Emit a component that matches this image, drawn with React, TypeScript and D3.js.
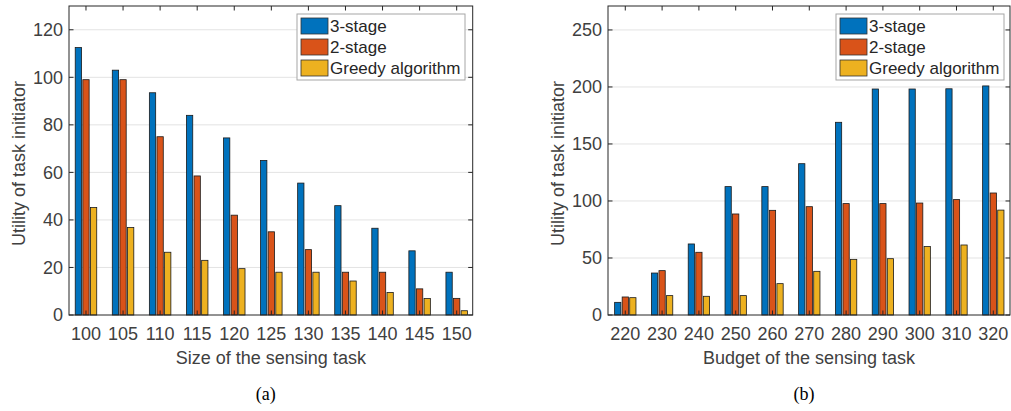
import { useEffect, useRef } from 'react';
import * as d3 from 'd3';

const seriesNames = ['3-stage', '2-stage', 'Greedy algorithm'];
const seriesColors = ['#0072BD', '#D95319', '#EDB120'];

// (a) size of the sensing task
const sizeTicks = [100, 105, 110, 115, 120, 125, 130, 135, 140, 145, 150];
const sizeThreeStage = [112.5, 103, 93.5, 84, 74.5, 65, 55.5, 46, 36.5, 27, 18];
const sizeTwoStage = [99, 99, 75, 58.5, 42, 35, 27.5, 18, 18, 11, 7];
const sizeGreedy = [45.2, 36.8, 26.4, 23, 19.5, 18, 18, 14.3, 9.5, 6.9, 1.8];
const sizeYTicks = [0, 20, 40, 60, 80, 100, 120];

// (b) budget of the sensing task
const budgetTicks = [220, 230, 240, 250, 260, 270, 280, 290, 300, 310, 320];
const budgetThreeStage = [11.1, 36.8, 62.3, 112.6, 112.6, 132.7, 169, 198.2, 198.2, 198.4, 200.9];
const budgetTwoStage = [15.8, 38.9, 55, 88.6, 91.8, 95, 97.7, 97.7, 98.2, 101.2, 107];
const budgetGreedy = [15.2, 17, 16.4, 17, 27.5, 38.3, 48.8, 49.4, 60, 61.4, 92];
const budgetYTicks = [0, 50, 100, 150, 200, 250];

const FONT = '"Liberation Sans", Arial, Helvetica, sans-serif';

function drawPanel(svg, p) {
  const g = svg.append('g');
  const x = d3.scaleLinear().domain(p.xDomain).range([p.left, p.right]);
  const y = d3.scaleLinear().domain(p.yDomain).range([p.bottom, p.top]);
  const step = x(p.cats[1]) - x(p.cats[0]);
  const pitch = step * 0.205;
  const bw = step * 0.17;

  // grid
  g.selectAll('.grid')
    .data(p.yTicks.filter(t => t > 0))
    .join('line')
    .attr('x1', p.left).attr('x2', p.right)
    .attr('y1', d => y(d)).attr('y2', d => y(d))
    .attr('stroke', '#e3e3e3').attr('stroke-width', 1);

  // bars
  p.series.forEach((vals, si) => {
    g.append('g')
      .selectAll('rect')
      .data(vals)
      .join('rect')
      .attr('x', (d, i) => x(p.cats[i]) + (si - 1) * pitch - bw / 2)
      .attr('y', d => y(d))
      .attr('width', bw)
      .attr('height', d => y(0) - y(d))
      .attr('fill', seriesColors[si])
      .attr('stroke', '#1a1a1a')
      .attr('stroke-width', 0.8);
  });

  // box
  g.append('rect')
    .attr('x', p.left).attr('y', p.top)
    .attr('width', p.right - p.left).attr('height', p.bottom - p.top)
    .attr('fill', 'none').attr('stroke', '#262626').attr('stroke-width', 1);

  const tl = 4.5;
  // x ticks bottom/top
  p.cats.forEach(c => {
    g.append('line').attr('x1', x(c)).attr('x2', x(c))
      .attr('y1', p.bottom).attr('y2', p.bottom - tl).attr('stroke', '#262626');
    g.append('line').attr('x1', x(c)).attr('x2', x(c))
      .attr('y1', p.top).attr('y2', p.top + tl).attr('stroke', '#262626');
    g.append('text')
      .attr('x', x(c)).attr('y', p.bottom + 25)
      .attr('text-anchor', 'middle')
      .attr('fill', '#404040')
      .style('font-family', FONT).style('font-size', '18px')
      .text(c);
  });
  // y ticks
  p.yTicks.forEach(t => {
    g.append('line').attr('x1', p.left).attr('x2', p.left + tl)
      .attr('y1', y(t)).attr('y2', y(t)).attr('stroke', '#262626');
    g.append('line').attr('x1', p.right).attr('x2', p.right - tl)
      .attr('y1', y(t)).attr('y2', y(t)).attr('stroke', '#262626');
    g.append('text')
      .attr('x', p.left - 6).attr('y', y(t))
      .attr('dy', '0.36em')
      .attr('text-anchor', 'end')
      .attr('fill', '#404040')
      .style('font-family', FONT).style('font-size', '18px')
      .text(t);
  });

  // axis labels
  g.append('text')
    .attr('x', (p.left + p.right) / 2).attr('y', p.bottom + 49)
    .attr('text-anchor', 'middle').attr('fill', '#404040')
    .style('font-family', FONT).style('font-size', '18px')
    .text(p.xLabel);
  g.append('text')
    .attr('transform', `translate(${p.yLabelX},${(p.top + p.bottom) / 2 + 3}) rotate(-90)`)
    .attr('text-anchor', 'middle').attr('dy', '0.36em').attr('fill', '#404040')
    .style('font-family', FONT).style('font-size', '18px')
    .text('Utility of task initiator');

  // caption
  g.append('text')
    .attr('x', (p.left + p.right) / 2 - 5).attr('y', 400)
    .attr('text-anchor', 'middle').attr('fill', '#000')
    .style('font-family', '"Liberation Serif", "Times New Roman", serif').style('font-size', '18px')
    .text(p.caption);

  // legend
  const lg = g.append('g').attr('transform', `translate(${p.legendX},14)`);
  lg.append('rect')
    .attr('x', 0).attr('y', 0).attr('width', 168).attr('height', 66)
    .attr('fill', '#fff').attr('stroke', '#a6a6a6').attr('stroke-width', 1);
  seriesNames.forEach((name, i) => {
    const cy = 12 + i * 21;
    lg.append('rect')
      .attr('x', 4).attr('y', cy - 8).attr('width', 27).attr('height', 16)
      .attr('fill', seriesColors[i]).attr('stroke', '#333').attr('stroke-width', 0.8);
    lg.append('text')
      .attr('x', 33).attr('y', cy).attr('dy', '0.36em')
      .attr('fill', '#262626')
      .style('font-family', FONT).style('font-size', '17px')
      .text(name);
  });
}

export default function App() {
  const svgRef = useRef(null);

  useEffect(() => {
    const svg = d3.select(svgRef.current);
    svg.selectAll('*').remove();

    drawPanel(svg, {
      left: 69, right: 472.7, top: 6, bottom: 315,
      cats: sizeTicks,
      xDomain: [97.71, 152.16],
      yDomain: [0, 130],
      yTicks: sizeYTicks,
      series: [sizeThreeStage, sizeTwoStage, sizeGreedy],
      xLabel: 'Size of the sensing task',
      yLabelX: 18.5,
      caption: '(a)',
      legendX: 297,
    });

    drawPanel(svg, {
      left: 608, right: 1010, top: 6, bottom: 315,
      cats: budgetTicks,
      xDomain: [215.3, 324.54],
      yDomain: [0, 271],
      yTicks: budgetYTicks,
      series: [budgetThreeStage, budgetTwoStage, budgetGreedy],
      xLabel: 'Budget of the sensing task',
      yLabelX: 558,
      caption: '(b)',
      legendX: 836,
    });
  }, []);

  return (
    <svg
      ref={svgRef}
      width={1011}
      height={411}
      style={{ position: 'absolute', left: 0, top: 0, background: '#fff' }}
    />
  );
}
